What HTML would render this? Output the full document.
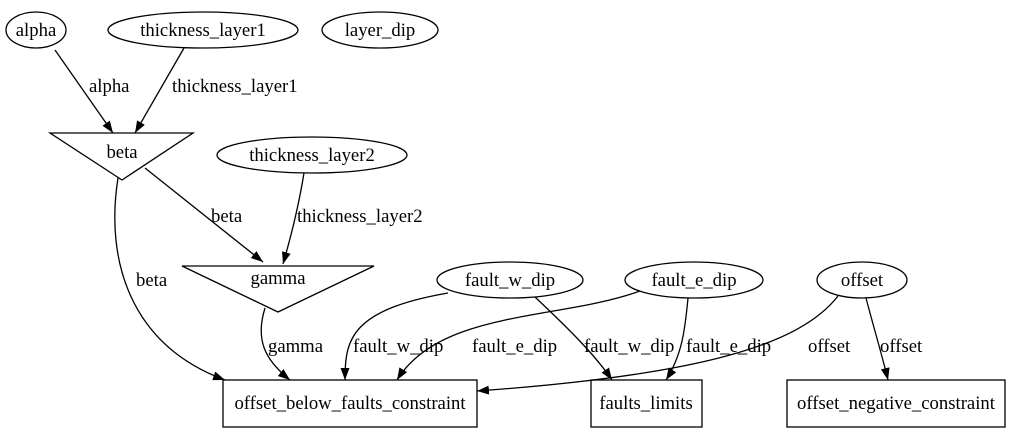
<!DOCTYPE html>
<html><head><meta charset="utf-8"><style>
html,body{margin:0;padding:0;background:#fff;}
svg text{font-family:"Liberation Serif",serif;font-size:18.7px;fill:#000;}
</style></head><body>
<svg width="1012" height="433" viewBox="0 0 1012 433" xmlns="http://www.w3.org/2000/svg">
<defs><marker id="a" markerWidth="12" markerHeight="9" refX="12" refY="4.5" orient="auto" markerUnits="userSpaceOnUse"><path d="M0,0 L12,4.5 L0,9 Z" fill="#000"/></marker></defs>
<g fill="none" stroke="#000" stroke-width="1.3">
<ellipse cx="36" cy="30" rx="30" ry="18"/>
<ellipse cx="203" cy="30" rx="95" ry="18"/>
<ellipse cx="380" cy="30" rx="58" ry="18"/>
<polygon points="50,133 193,133 122,180"/>
<ellipse cx="312" cy="155" rx="95" ry="18"/>
<polygon points="182,266 374,266 278,312"/>
<ellipse cx="510" cy="280" rx="73" ry="18"/>
<ellipse cx="694" cy="280" rx="69" ry="18"/>
<ellipse cx="862" cy="280" rx="45" ry="18"/>
<rect x="223" y="380" width="254" height="47"/>
<rect x="591" y="380" width="111" height="47"/>
<rect x="787" y="380" width="218" height="47"/>
<g marker-end="url(#a)">
<path d="M55,50 L113,133"/>
<path d="M184,48 L135,133"/>
<path d="M145,168 L263,262"/>
<path d="M304,173 C298,210 290,240 283,264"/>
<path d="M118,178 C105,260 130,345 225,380"/>
<path d="M265,308 C255,340 265,360 290,380"/>
<path d="M448,293 C350,310 345,340 345,380"/>
<path d="M640,291 C560,320 440,310 397,380"/>
<path d="M535,297 C570,330 595,355 612,380"/>
<path d="M688,298 C685,330 682,355 666,380"/>
<path d="M838,296 C800,345 700,375 477,391"/>
<path d="M866,298 C873,325 882,355 888,380"/>
</g></g>
<g text-anchor="middle">
<text x="36" y="36">alpha</text>
<text x="203" y="36">thickness_layer1</text>
<text x="380" y="36">layer_dip</text>
<text x="122" y="158">beta</text>
<text x="312" y="161">thickness_layer2</text>
<text x="278" y="284">gamma</text>
<text x="510" y="286">fault_w_dip</text>
<text x="694" y="286">fault_e_dip</text>
<text x="862" y="286">offset</text>
<text x="350" y="409">offset_below_faults_constraint</text>
<text x="646" y="409">faults_limits</text>
<text x="896" y="409">offset_negative_constraint</text>
</g>
<text x="89" y="92">alpha</text>
<text x="172" y="92">thickness_layer1</text>
<text x="211" y="222">beta</text>
<text x="297" y="222">thickness_layer2</text>
<text x="136" y="286">beta</text>
<text x="268" y="352">gamma</text>
<text x="353" y="352">fault_w_dip</text>
<text x="472" y="352">fault_e_dip</text>
<text x="584" y="352">fault_w_dip</text>
<text x="686" y="352">fault_e_dip</text>
<text x="808" y="352">offset</text>
<text x="880" y="352">offset</text>
</svg>
</body></html>
